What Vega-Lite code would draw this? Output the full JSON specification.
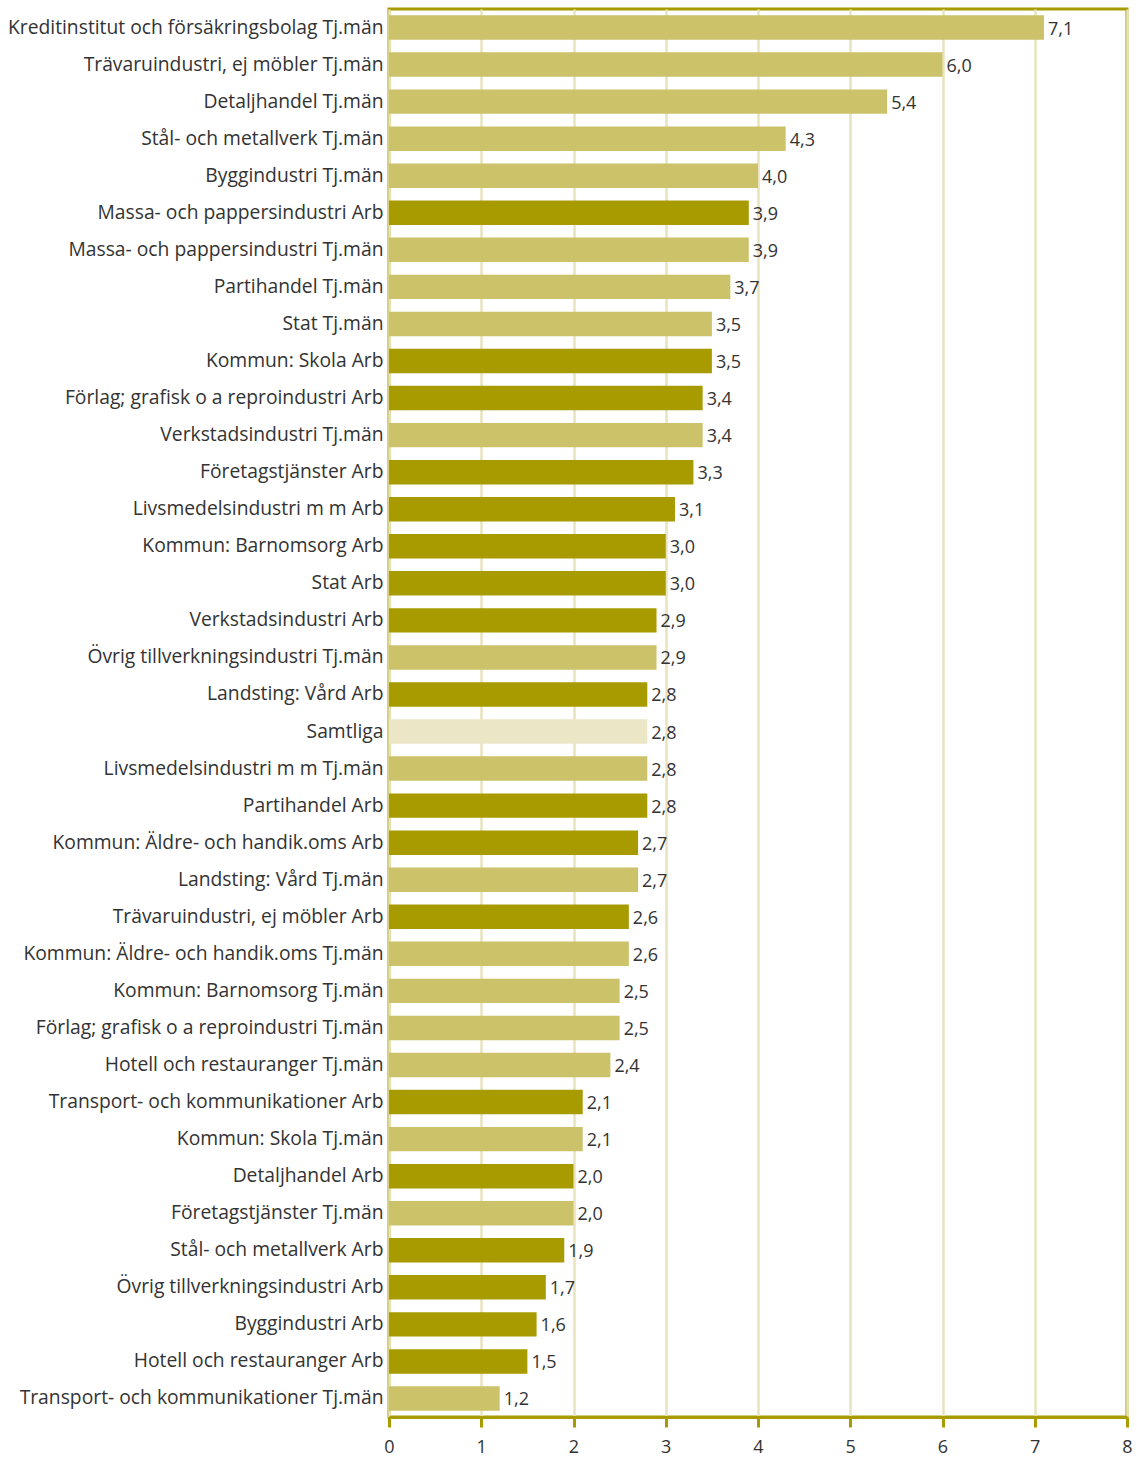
{
  "$schema": "https://vega.github.io/schema/vega-lite/v6.json",
  "width": 738,
  "height": 1408,
  "autosize": "none",
  "padding": {"left": 389, "top": 9, "right": 10, "bottom": 40},
  "background": "white",
  "config": {
    "locale": {"number": {"decimal": ",", "thousands": " ", "grouping": [3], "currency": ["", " kr"]}},
    "view": {"stroke": "#a89b00", "strokeWidth": 3},
    "font": "Open Sans"
  },
  "data": {"values": [
    {"k": "Kreditinstitut och försäkringsbolag Tj.män", "v": 7.1, "t": "Tj.män"},
    {"k": "Trävaruindustri, ej möbler Tj.män", "v": 6.0, "t": "Tj.män"},
    {"k": "Detaljhandel Tj.män", "v": 5.4, "t": "Tj.män"},
    {"k": "Stål- och metallverk Tj.män", "v": 4.3, "t": "Tj.män"},
    {"k": "Byggindustri Tj.män", "v": 4.0, "t": "Tj.män"},
    {"k": "Massa- och pappersindustri Arb", "v": 3.9, "t": "Arb"},
    {"k": "Massa- och pappersindustri Tj.män", "v": 3.9, "t": "Tj.män"},
    {"k": "Partihandel Tj.män", "v": 3.7, "t": "Tj.män"},
    {"k": "Stat Tj.män", "v": 3.5, "t": "Tj.män"},
    {"k": "Kommun: Skola Arb", "v": 3.5, "t": "Arb"},
    {"k": "Förlag; grafisk o a reproindustri Arb", "v": 3.4, "t": "Arb"},
    {"k": "Verkstadsindustri Tj.män", "v": 3.4, "t": "Tj.män"},
    {"k": "Företagstjänster Arb", "v": 3.3, "t": "Arb"},
    {"k": "Livsmedelsindustri m m Arb", "v": 3.1, "t": "Arb"},
    {"k": "Kommun: Barnomsorg Arb", "v": 3.0, "t": "Arb"},
    {"k": "Stat Arb", "v": 3.0, "t": "Arb"},
    {"k": "Verkstadsindustri Arb", "v": 2.9, "t": "Arb"},
    {"k": "Övrig tillverkningsindustri Tj.män", "v": 2.9, "t": "Tj.män"},
    {"k": "Landsting: Vård Arb", "v": 2.8, "t": "Arb"},
    {"k": "Samtliga", "v": 2.8, "t": "Samtliga"},
    {"k": "Livsmedelsindustri m m Tj.män", "v": 2.8, "t": "Tj.män"},
    {"k": "Partihandel Arb", "v": 2.8, "t": "Arb"},
    {"k": "Kommun: Äldre- och handik.oms Arb", "v": 2.7, "t": "Arb"},
    {"k": "Landsting: Vård Tj.män", "v": 2.7, "t": "Tj.män"},
    {"k": "Trävaruindustri, ej möbler Arb", "v": 2.6, "t": "Arb"},
    {"k": "Kommun: Äldre- och handik.oms Tj.män", "v": 2.6, "t": "Tj.män"},
    {"k": "Kommun: Barnomsorg Tj.män", "v": 2.5, "t": "Tj.män"},
    {"k": "Förlag; grafisk o a reproindustri Tj.män", "v": 2.5, "t": "Tj.män"},
    {"k": "Hotell och restauranger Tj.män", "v": 2.4, "t": "Tj.män"},
    {"k": "Transport- och kommunikationer Arb", "v": 2.1, "t": "Arb"},
    {"k": "Kommun: Skola Tj.män", "v": 2.1, "t": "Tj.män"},
    {"k": "Detaljhandel Arb", "v": 2.0, "t": "Arb"},
    {"k": "Företagstjänster Tj.män", "v": 2.0, "t": "Tj.män"},
    {"k": "Stål- och metallverk Arb", "v": 1.9, "t": "Arb"},
    {"k": "Övrig tillverkningsindustri Arb", "v": 1.7, "t": "Arb"},
    {"k": "Byggindustri Arb", "v": 1.6, "t": "Arb"},
    {"k": "Hotell och restauranger Arb", "v": 1.5, "t": "Arb"},
    {"k": "Transport- och kommunikationer Tj.män", "v": 1.2, "t": "Tj.män"}
  ]},
  "encoding": {
    "y": {
      "field": "k", "type": "nominal", "sort": null, "title": null,
      "scale": {"paddingInner": 0.34, "paddingOuter": 0.17},
      "axis": {"domain": false, "ticks": false, "labelFontSize": 19.3, "labelColor": "#333333", "labelPadding": 6, "labelLimit": 0, "labelFont": "Open Sans"}
    },
    "x": {
      "field": "v", "type": "quantitative", "title": null,
      "scale": {"domain": [0, 8], "nice": false},
      "axis": {"values": [0,1,2,3,4,5,6,7,8], "format": "d", "grid": true, "gridColor": "#e8e3bd", "gridWidth": 2.5, "domainColor": "#a89b00", "domainWidth": 3, "tickColor": "#a89b00", "tickWidth": 3, "tickSize": 10, "labelFontSize": 18, "labelColor": "#333333", "labelPadding": 11, "labelFlush": false, "labelBound": false, "labelOverlap": false, "labelFont": "Open Sans"}
    }
  },
  "layer": [
    {
      "mark": {"type": "bar"},
      "encoding": {
        "color": {"field": "t", "type": "nominal", "legend": null,
          "scale": {"domain": ["Tj.män", "Arb", "Samtliga"], "range": ["#cbc26a", "#a89b00", "#ebe6c6"]}}
      }
    },
    {
      "mark": {"type": "text", "align": "left", "baseline": "middle", "dx": 4, "dy": 2, "fontSize": 18, "color": "#333333", "font": "Open Sans"},
      "encoding": {"text": {"field": "v", "type": "quantitative", "format": ".1f"}}
    }
  ]
}
